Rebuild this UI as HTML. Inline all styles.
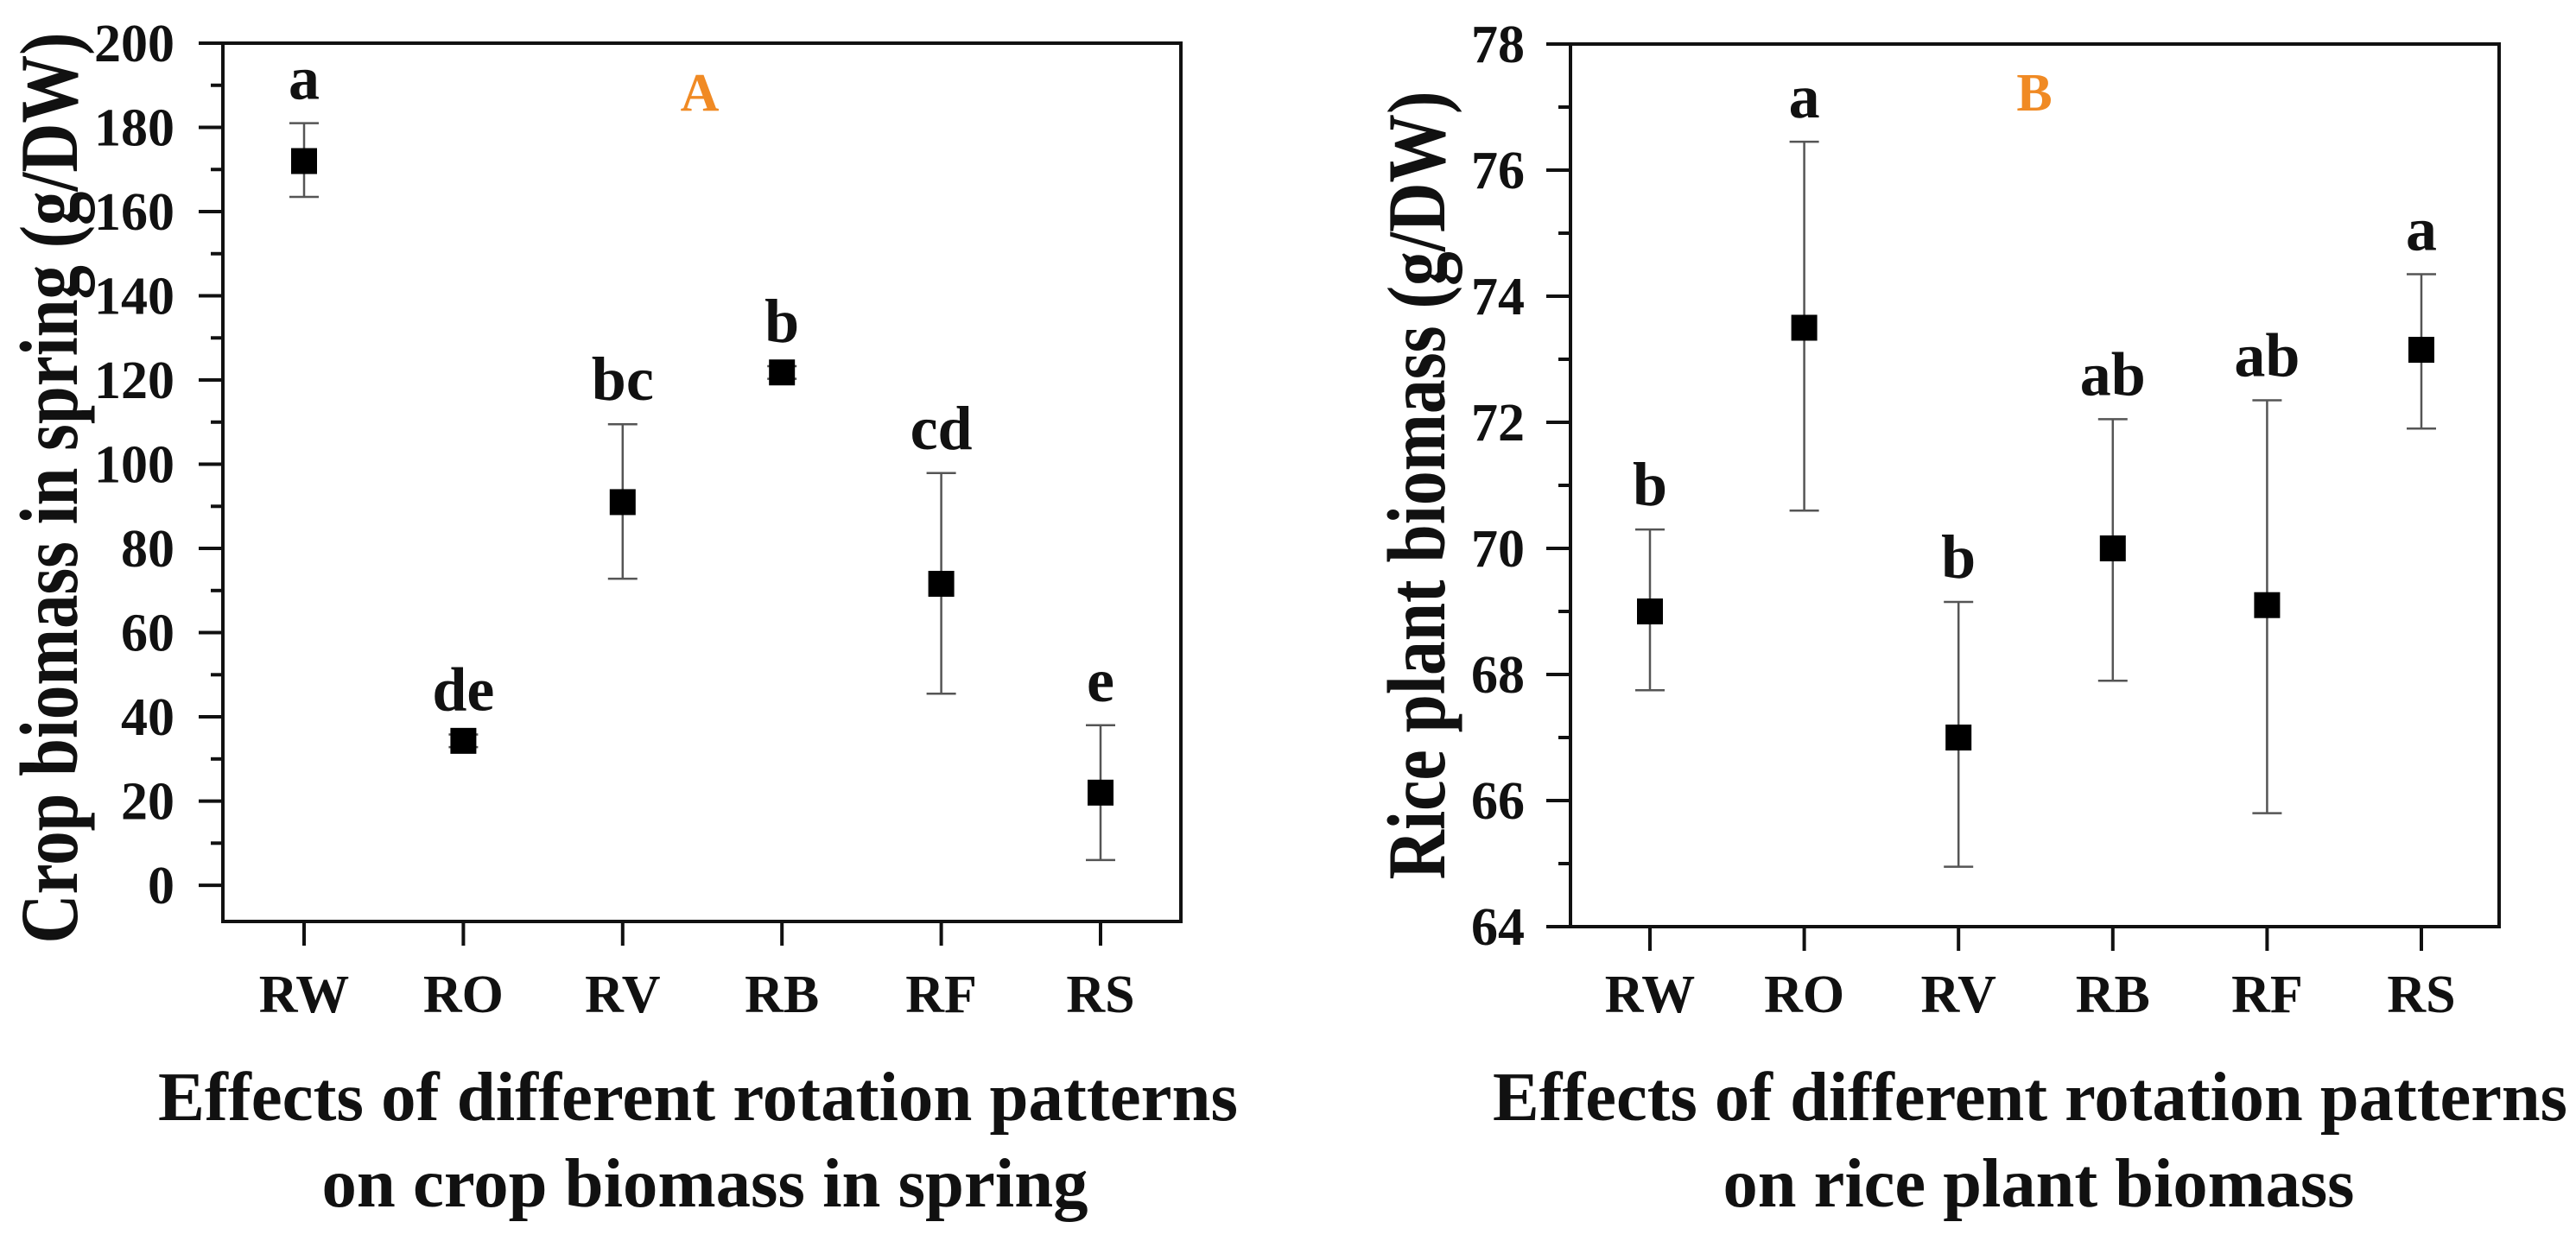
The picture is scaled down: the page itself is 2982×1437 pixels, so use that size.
<!DOCTYPE html>
<html><head><meta charset="utf-8"><style>
html,body{margin:0;padding:0;background:#fff;}
svg{display:block;font-family:"Liberation Serif",serif;font-weight:bold;}
</style></head><body>
<svg id="chart" width="2982" height="1437" viewBox="0 0 2982 1437" xmlns="http://www.w3.org/2000/svg">
<g id="pA"></g>
<g id="pB"></g>
</svg>
<script>
const categories = ["RW","RO","RV","RB","RF","RS"];
const valuesA = [172, 34.3, 91, 121.8, 71.6, 22];
const errLowA = [163.5, 32.8, 72.8, 120.3, 45.5, 6];
const errHighA = [181, 35.8, 109.5, 123.3, 97.9, 38];
const lettersA = ["a","de","bc","b","cd","e"];
const ticksA = [0,20,40,60,80,100,120,140,160,180,200];
const valuesB = [69.0, 73.5, 67.0, 70.0, 69.1, 73.15];
const errLowB = [67.75, 70.6, 64.95, 67.9, 65.8, 71.9];
const errHighB = [70.3, 76.45, 69.15, 72.05, 72.35, 74.35];
const lettersB = ["b","a","b","ab","ab","a"];
const ticksB = [64,66,68,70,72,74,76,78];

const NS = "http://www.w3.org/2000/svg";
function mk(parent, tag, attrs, text){
  const e = document.createElementNS(NS, tag);
  for (const k in attrs) e.setAttribute(k, attrs[k]);
  if (text !== undefined) e.textContent = text;
  parent.appendChild(e);
  return e;
}

function panel(g, cfg){
  const {left,right,top,bottom,yMin,yMax,x0,dx,vals,lo,hi,letters,ticks,minorStep,
    letterOffset,tickRight,yTitle,yTitleX,yTitleLen,t1,t1c,t1len,t2,t2c,t2len,tag,tagX} = cfg;
  const y = v => bottom - (v - yMin) / (yMax - yMin) * (bottom - top);
  const x = i => x0 + dx * i;
  let e;
  e = mk(g,'rect',{x:left,y:top,width:right-left,height:bottom-top,fill:'none',stroke:'#111','stroke-width':4});
  
  
  ticks.forEach(t=>{
    e = mk(g,'line',{x1:left-28,x2:left,y1:y(t),y2:y(t),stroke:'#111','stroke-width':4});
    
    
    e = mk(g,'text',{x:tickRight,y:y(t)+21,'text-anchor':'end','font-size':62,fill:'#111'},String(t));
    
    
  });
  for (let t = ticks[0] + minorStep; t < ticks[ticks.length-1]; t += 2*minorStep){
    e = mk(g,'line',{x1:left-14,x2:left,y1:y(t),y2:y(t),stroke:'#111','stroke-width':4});
    
    
  }
  categories.forEach((c,i)=>{
    e = mk(g,'line',{x1:x(i),x2:x(i),y1:bottom,y2:bottom+28,stroke:'#111','stroke-width':4});
    
    
    e = mk(g,'text',{x:x(i),y:1172,'text-anchor':'middle','font-size':62,fill:'#111'},c);
    
    
    e = mk(g,'line',{x1:x(i),x2:x(i),y1:y(hi[i]),y2:y(lo[i]),stroke:'#555','stroke-width':2.5});
    
    
    e = mk(g,'line',{x1:x(i)-17,x2:x(i)+17,y1:y(hi[i]),y2:y(hi[i]),stroke:'#555','stroke-width':2.5});
    
    
    e = mk(g,'line',{x1:x(i)-17,x2:x(i)+17,y1:y(lo[i]),y2:y(lo[i]),stroke:'#555','stroke-width':2.5});
    
    
    e = mk(g,'rect',{x:x(i)-15,y:y(vals[i])-15,width:30,height:30,fill:'#000'});
    
    
    e = mk(g,'text',{x:x(i),y:y(hi[i])-letterOffset,'text-anchor':'middle','font-size':72,fill:'#111'},letters[i]);
    
    
  });
  e = mk(g,'text',{x:tagX,y:128,'text-anchor':'middle','font-size':62,fill:'#f08a24'},tag);
  
  
  e = mk(g,'text',{x:0,y:0,'text-anchor':'middle','font-size':95,fill:'#111',
    transform:`translate(${yTitleX},${yTitle.cy}) rotate(-90)`,textLength:yTitleLen,lengthAdjust:'spacingAndGlyphs'},yTitle.text);
  
  
  e = mk(g,'text',{x:t1c,y:1297,'text-anchor':'middle','font-size':80,fill:'#111',textLength:t1len,lengthAdjust:'spacingAndGlyphs'},t1);
  
  
  e = mk(g,'text',{x:t2c,y:1397,'text-anchor':'middle','font-size':80,fill:'#111',textLength:t2len,lengthAdjust:'spacingAndGlyphs'},t2);
  
  
}

panel(document.getElementById('pA'),{
  left:258,right:1367,top:50,bottom:1067,yMin:-8.6,yMax:200,x0:352,dx:184.4,
  vals:valuesA,lo:errLowA,hi:errHighA,letters:lettersA,ticks:ticksA,minorStep:10,
  letterOffset:28,tickRight:202,
  yTitle:{text:"Crop biomass in spring (g/DW)",cy:565},yTitleX:89,yTitleLen:1055,
  t1:"Effects of different rotation patterns",t1c:808,t1len:1250,
  t2:"on crop biomass in spring",t2c:816,t2len:887,tag:"A",tagX:810
});
panel(document.getElementById('pB'),{
  left:1818,right:2893,top:51,bottom:1073,yMin:64,yMax:78,x0:1910,dx:178.6,
  vals:valuesB,lo:errLowB,hi:errHighB,letters:lettersB,ticks:ticksB,minorStep:1,
  letterOffset:28,tickRight:1765,
  yTitle:{text:"Rice plant biomass (g/DW)",cy:562},yTitleX:1672,yTitleLen:913,
  t1:"Effects of different rotation patterns",t1c:2350,t1len:1244,
  t2:"on rice plant biomass",t2c:2360,t2len:731,tag:"B",tagX:2355
});
</script>
</body></html>
